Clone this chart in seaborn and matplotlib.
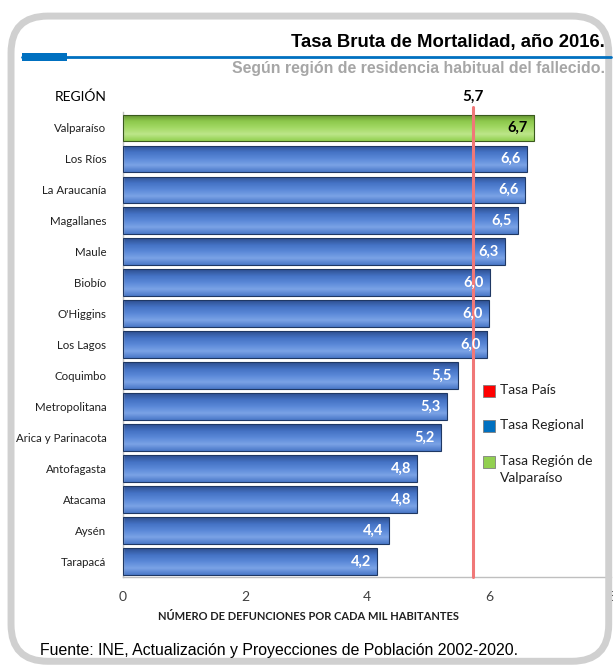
import numpy as np
import pandas as pd
import seaborn as sns
import matplotlib.pyplot as plt
from matplotlib.patches import FancyBboxPatch, Rectangle
from matplotlib.colors import LinearSegmentedColormap

# datos
regiones = ["Valparaíso", "Los Ríos", "La Araucanía", "Magallanes", "Maule", "Biobío",
            "O'Higgins", "Los Lagos", "Coquimbo", "Metropolitana", "Arica y Parinacota",
            "Antofagasta", "Atacama", "Aysén", "Tarapacá"]
tasas = [6.74, 6.62, 6.59, 6.48, 6.26, 6.02, 6.00, 5.97, 5.49, 5.31, 5.21, 4.82, 4.82, 4.36, 4.16]
etiquetas = ["6,7", "6,6", "6,6", "6,5", "6,3", "6,0", "6,0", "6,0", "5,5", "5,3", "5,2",
             "4,8", "4,8", "4,4", "4,2"]
tasa_pais = 5.74
etiqueta_pais = "5,7"
x_ticks = [0, 2, 4, 6, 8]

df = pd.DataFrame({"region": regiones, "tasa": tasas})
df["tipo"] = ["Valparaíso" if r == "Valparaíso" else "Regional" for r in regiones]

sns.set_style("white")
plt.rcParams["font.family"] = ["Lato", "DejaVu Sans"]

fig = plt.figure(figsize=(6.13, 6.70), dpi=100)
ax = fig.add_axes([0.2007, 0.1388, 0.7960, 0.6940])

sns.barplot(data=df, x="tasa", y="region", hue="tipo",
            palette={"Valparaíso": "#92D050", "Regional": "#4472C4"},
            dodge=False, width=0.84, legend=False, ax=ax)

# degradado tipo bisel en cada barra
grad_azul = LinearSegmentedColormap.from_list("az", ["#2E4F8F", "#4472C4", "#5A88D8", "#7BA3E6", "#4A78C8"])
grad_verde = LinearSegmentedColormap.from_list("vd", ["#5E8A2E", "#8CC84B", "#A2D964", "#BDE68A", "#92D050"])
g = np.linspace(0, 1, 64).reshape(-1, 1)
for p, tipo in zip(ax.patches, df["tipo"]):
    x0, y0 = p.get_x(), p.get_y()
    w, h = p.get_width(), p.get_height()
    cmap = grad_verde if tipo == "Valparaíso" else grad_azul
    im = ax.imshow(g, cmap=cmap, aspect="auto", extent=[x0, x0 + w, y0 + h, y0],
                   origin="upper", zorder=2)
    im.set_clip_path(p)
    p.set_edgecolor("#3A5A1E" if tipo == "Valparaíso" else "#1F3864")
    p.set_linewidth(0.8)
    p.set_zorder(3)
    p.set_facecolor("none")

ax.set_xlim(0, 8)
ax.set_ylim(14.5, -0.5)

# etiquetas de valores
for i, (v, lab) in enumerate(zip(tasas, etiquetas)):
    col = "black" if regiones[i] == "Valparaíso" else "white"
    ax.text(v - 0.1, i, lab, ha="right", va="center", fontsize=10.5,
            fontweight="bold", color=col, zorder=5)

# linea tasa pais
ax.axvline(tasa_pais, ymin=0, ymax=1.01, color="#F07878", lw=2.2, zorder=4, clip_on=False)
ax.text(tasa_pais, -0.98, etiqueta_pais, ha="center", va="center", fontsize=11,
        fontweight="bold", color="black")
ax.text(-0.033, -0.98, "REGIÓN", transform=ax.get_yaxis_transform(), ha="right",
        va="center", fontsize=10, color="black")

ax.set_xticks(x_ticks)
ax.set_xticklabels([str(t) for t in x_ticks], fontsize=10, color="#404040")
ax.set_yticks(range(len(regiones)))
ax.set_yticklabels(regiones, fontsize=8.3, color="#202020")
ax.set_ylabel("")
ax.set_xlabel("")

for s in ["top", "right"]:
    ax.spines[s].set_visible(False)
for s in ["left", "bottom"]:
    ax.spines[s].set_color("#BFBFBF")
    ax.spines[s].set_linewidth(1)
ax.tick_params(axis="x", length=4, color="#BFBFBF", pad=6)
ax.tick_params(axis="y", length=0, pad=12)
# marcas menores entre categorias
ax.set_yticks(np.arange(-0.5, 15, 1), minor=True)
ax.tick_params(axis="y", which="minor", length=4, color="#BFBFBF")

fig.text(0.504, 1 - 617 / 670, "NÚMERO DE DEFUNCIONES POR CADA MIL HABITANTES", ha="center",
         va="center", fontsize=8, fontweight="bold", color="#202020")

# leyenda
leyenda = [("#FF0000", "Tasa País"), ("#0070C0", "Tasa Regional"),
           ("#92D050", "Tasa Región de\nValparaíso")]
ly = [391, 426, 462]
for (c, t), yy in zip(leyenda, ly):
    yc = 1 - yy / 670
    fig.patches.append(Rectangle((483 / 613, yc - 0.009), 12 / 613, 12 / 670,
                                 transform=fig.transFigure, facecolor=c,
                                 edgecolor="#7F7F7F", lw=0.6))
    fig.text(500 / 613, yc + 0.011, t, ha="left", va="top", fontsize=10,
             color="#202020", linespacing=1.55)

# marco redondeado
fig.patches.append(FancyBboxPatch((0.018, 0.013), 0.975, 0.963, boxstyle="round,pad=0,rounding_size=0.06",
                                  transform=fig.transFigure, facecolor="none",
                                  edgecolor="#D0D0D0", lw=5, mutation_aspect=613 / 670))

# titulo, linea azul y subtitulo
fig.text(0.987, 1 - 42 / 670, "Tasa Bruta de Mortalidad, año 2016.", ha="right", va="center",
         fontsize=13.3, fontweight="bold", family="Liberation Sans", color="black")
fig.lines.append(plt.Line2D([0.036, 0.997], [1 - 57 / 670, 1 - 57 / 670], transform=fig.transFigure,
                            color="#0070C0", lw=2))
fig.patches.append(Rectangle((0.036, 1 - 61 / 670), 0.074, 8 / 670, transform=fig.transFigure,
                             facecolor="#0070C0", edgecolor="none"))
fig.text(0.987, 1 - 68 / 670, "Según región de residencia habitual del fallecido.", ha="right",
         va="center", fontsize=11.4, fontweight="bold", family="Liberation Sans", color="#A6A6A6")

fig.text(0.065, 1 - 650 / 670, "Fuente: INE, Actualización y Proyecciones de Población 2002-2020.",
         ha="left", va="center", fontsize=11.4, family="Liberation Sans", color="black")

fig.savefig("out.png", dpi=100)
